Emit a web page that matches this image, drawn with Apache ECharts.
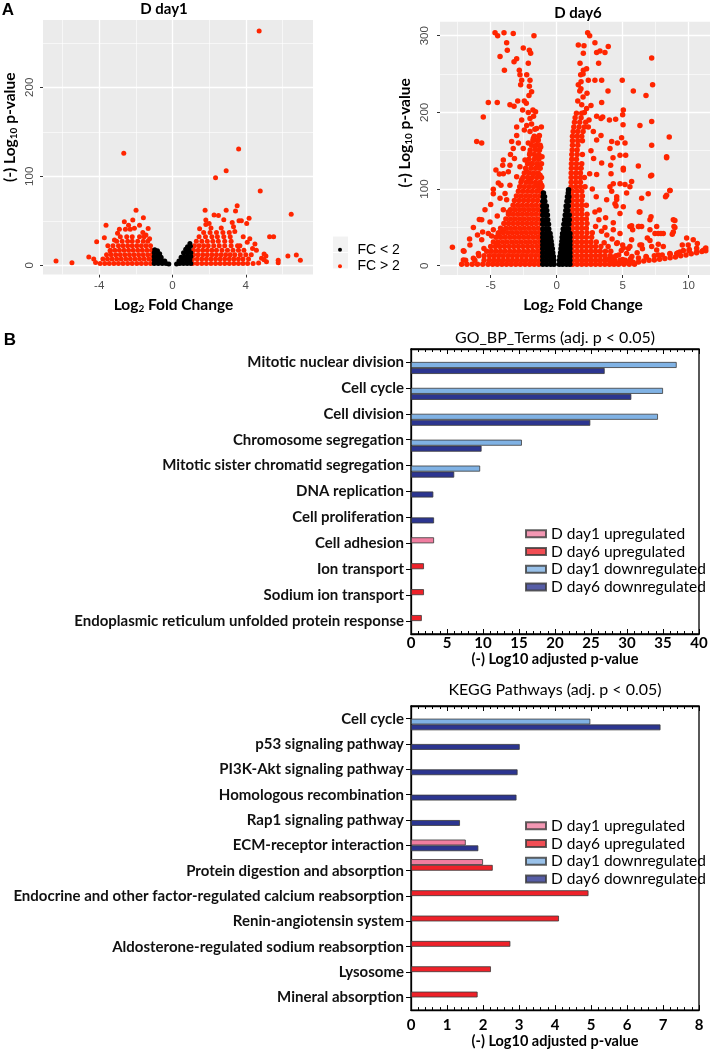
<!DOCTYPE html>
<html>
<head>
<meta charset="utf-8">
<script src="https://cdn.jsdelivr.net/npm/echarts@6/dist/echarts.min.js"></script>
<style>
  html, body { margin: 0; padding: 0; background: #fff; }
  #main { width: 715px; height: 1050px; }
</style>
</head>
<body>
<div id="main"></div>
<script>
// ---- panel A: volcano plots ----
const day1XTicks = [-4, 0, 4];
const day1XMinor = [-6, -2, 2, 6];
const day1YTicks = [0, 100, 200];
const day1YMinor = [50, 150, 250];
const day6XTicks = [-5, 0, 5, 10];
const day6XMinor = [-7.5, -2.5, 2.5, 7.5];
const day6YTicks = [0, 100, 200, 300];
const day6YMinor = [50, 150, 250];

// FC < 2, day1
const day1Black = [
  [-1.0,2],[-0.78,2],[-0.56,2],[-0.35,2],[-0.2,1.5],
  [-1.0,6],[-0.8,6],[-0.6,6],[-0.42,5],
  [-1.0,10],[-0.8,10],[-0.62,9],
  [-1.0,14],[-0.83,14],[-0.7,13],
  [-0.97,17.5],[-0.82,16.5],
  [0.22,1.5],[0.4,2],[0.6,2],[0.8,2],[1.0,2],
  [0.35,5],[0.55,6],[0.75,6],[0.95,6],
  [0.47,9],[0.66,10],[0.85,10],[1.0,10],
  [0.6,14],[0.8,14],[1.0,14],
  [0.72,18],[0.9,18],
  [0.82,21],[0.98,21.5],
  [0.95,24.5]
];
// FC > 2, day1 : dense rows [y, [x...]] plus single spots
const day1RedLeftRows = [
  [2, [-3.95,-3.7,-3.45,-3.2,-2.95,-2.7,-2.45,-2.2,-1.95,-1.7,-1.45,-1.2]],
  [7, [-3.8,-3.55,-3.3,-3.05,-2.8,-2.55,-2.3,-2.05,-1.8,-1.55,-1.3,-1.1]],
  [12, [-3.6,-3.35,-3.1,-2.85,-2.6,-2.35,-2.1,-1.85,-1.6,-1.35,-1.12]],
  [17, [-3.4,-3.15,-2.9,-2.65,-2.4,-2.15,-1.9,-1.65,-1.4,-1.15]],
  [22, [-3.25,-2.95,-2.7,-2.45,-2.2,-1.95,-1.7,-1.45,-1.2]],
  [27, [-3.05,-2.75,-2.45,-2.2,-1.9,-1.6,-1.35]],
  [32, [-2.85,-2.5,-2.2,-1.8,-1.55]]
];
const day1RedLeftSpots = [
  [-6.36,4.8],[-5.49,3],[-4.57,9.3],[-4.3,7],[-4.2,3.3],[-4.14,26.5],[-3.63,45],[-3.72,31],
  [-3.53,22],[-1.99,62],[-1.59,53.5],[-2.17,51],[-2.63,49],[-2.9,40.4],[-2.57,40.4],[-2.31,40.4],
  [-1.33,41.5],[-2.08,41.6],[-1.62,37],[-2.66,125.8],[-3.17,28.4],[-1.45,34],[-3.4,16],[-3.0,36],
  [-1.8,45],[-2.4,45],[-1.25,30]
];
const day1RedRightRows = [
  [2, [1.1,1.35,1.6,1.85,2.1,2.35,2.6,2.85,3.1,3.35,3.6,3.85,4.1,4.4]],
  [7, [1.1,1.35,1.6,1.85,2.1,2.35,2.6,2.85,3.1,3.35,3.6,3.85,4.15]],
  [12, [1.15,1.4,1.65,1.9,2.15,2.4,2.65,2.9,3.15,3.4,3.7,4.0]],
  [17, [1.15,1.4,1.65,1.9,2.15,2.4,2.7,3.0,3.3,3.6,3.9]],
  [22, [1.2,1.45,1.7,1.95,2.25,2.55,2.85,3.2,3.55]],
  [27, [1.3,1.6,1.9,2.2,2.5,2.85,3.2]],
  [32, [1.45,1.8,2.15,2.45,2.8,3.15]],
  [37, [1.7,2.05,2.4,2.75,3.1]]
];
const day1RedRightSpots = [
  [1.78,62],[2.93,62],[3.53,67],[3.44,61],[2.27,56.6],[2.51,56],[1.82,51],[1.82,46],[2.8,51.3],
  [3.63,50],[4.18,53],[4.05,47],[3.26,48],[3.33,43.4],[1.48,41],[2.1,42],[2.66,42],[5.3,32],
  [5.52,32],[6.48,57.3],[6.3,10.5],[6.76,11.5],[6.98,5.8],[5.77,5.8],[5.77,3],[5.1,10.5],[5.13,4],
  [4.86,8],[4.58,17],[4.22,30],[4.37,19],[3.86,32],[4.08,26],[3.68,22],[4.73,263.3],[3.61,130.7],
  [2.93,106.3],[2.35,98.5],[4.79,83.5],[4.7,2.7],[5.0,12.6],[5.0,6.2],[3.76,50],[4.5,24],[4.3,12],
  [3.4,38],[2.0,47]
];

// FC < 2, day6 : rows [y, [x...]]
const day6BlackRows = [
  [2, [-1.05,-0.75,-0.45,-0.2,0.2,0.45,0.75,1.0]],
  [7, [-1.05,-0.75,-0.45,-0.22,0.22,0.45,0.75,1.0]],
  [12, [-1.05,-0.75,-0.45,-0.25,0.25,0.5,0.75,1.0]],
  [17, [-1.05,-0.75,-0.5,-0.3,0.3,0.5,0.75,1.0]],
  [22, [-1.05,-0.75,-0.5,-0.33,0.33,0.55,0.78,1.0]],
  [27, [-1.05,-0.78,-0.55,-0.38,0.36,0.58,0.8,1.0]],
  [32, [-1.05,-0.78,-0.55,-0.42,0.4,0.6,0.8,1.0]],
  [37, [-1.05,-0.8,-0.6,-0.46,0.42,0.62,0.82,1.0]],
  [42, [-1.05,-0.8,-0.6,-0.5,0.45,0.65,0.85,1.0]],
  [48, [-1.05,-0.8,-0.6,0.5,0.7,0.9]],
  [54, [-1.05,-0.82,-0.62,0.55,0.75,0.92]],
  [60, [-1.05,-0.82,-0.68,0.6,0.78,0.95]],
  [66, [-1.05,-0.85,-0.7,0.65,0.82,0.95]],
  [72, [-1.05,-0.85,-0.75,0.7,0.85]],
  [78, [-1.05,-0.88,-0.78,0.72,0.88]],
  [84, [-1.05,-0.9,0.78,0.9]],
  [90, [-1.02,-0.92,0.82,0.92]],
  [95, [-1.0,0.88]],
  [99, [0.9]]
];
// FC > 2, day6
const day6RedLeftRows = [
  [2, [-7.2,-6.8,-6.4,-6.0,-5.6,-5.2,-4.85,-4.5,-4.15,-3.8,-3.45,-3.1,-2.75,-2.4,-2.05,-1.7,-1.35]],
  [7, [-6.9,-6.2,-5.5,-5.1,-4.75,-4.4,-4.05,-3.7,-3.35,-3.0,-2.65,-2.3,-1.95,-1.6,-1.25]],
  [13, [-5.9,-5.5,-5.1,-4.75,-4.4,-4.05,-3.7,-3.35,-3.0,-2.65,-2.3,-1.95,-1.6,-1.25]],
  [19, [-5.3,-4.95,-4.6,-4.25,-3.9,-3.55,-3.2,-2.85,-2.5,-2.15,-1.8,-1.45,-1.2]],
  [25, [-5.0,-4.65,-4.3,-3.95,-3.6,-3.25,-2.9,-2.55,-2.2,-1.85,-1.5,-1.2]],
  [31, [-4.8,-4.45,-4.1,-3.75,-3.4,-3.05,-2.7,-2.35,-2.0,-1.65,-1.3]],
  [37, [-4.6,-4.25,-3.9,-3.55,-3.2,-2.85,-2.5,-2.15,-1.8,-1.45,-1.2]],
  [43, [-4.4,-4.05,-3.7,-3.35,-3.0,-2.65,-2.3,-1.95,-1.6,-1.25]],
  [49, [-4.25,-3.85,-3.5,-3.15,-2.8,-2.45,-2.1,-1.75,-1.4]],
  [55, [-4.0,-3.65,-3.3,-2.95,-2.6,-2.25,-1.9,-1.55,-1.2]],
  [61, [-3.85,-3.5,-3.15,-2.8,-2.45,-2.1,-1.75,-1.4]],
  [67, [-3.65,-3.3,-2.95,-2.6,-2.25,-1.9,-1.55,-1.2]],
  [73, [-3.5,-3.15,-2.8,-2.45,-2.1,-1.75,-1.4]],
  [79, [-3.3,-2.95,-2.6,-2.25,-1.9,-1.55,-1.2]],
  [85, [-3.2,-2.85,-2.5,-2.15,-1.8,-1.45]],
  [91, [-3.05,-2.7,-2.35,-2.0,-1.65,-1.3]],
  [97, [-2.9,-2.55,-2.2,-1.85,-1.5,-1.2]],
  [103, [-2.8,-2.45,-2.1,-1.75,-1.4,-1.12]],
  [109, [-2.7,-2.3,-1.95,-1.6,-1.25]],
  [115, [-2.55,-2.2,-1.85,-1.5,-1.15]],
  [121, [-2.45,-2.1,-1.75,-1.4]],
  [127, [-2.35,-1.95,-1.6,-1.25]],
  [133, [-2.2,-1.85,-1.5,-1.15]],
  [139, [-2.1,-1.7,-1.35]],
  [145, [-2.05,-1.7,-1.35]],
  [151, [-2.0,-1.6,-1.3]],
  [157, [-1.9,-1.55,-1.25]],
  [163, [-1.8,-1.45]],
  [169, [-1.7,-1.35]]
];
const day6RedLeftSpots = [
  [-4.67,304],[-4.47,300],[-3.99,304],[-3.29,303],[-1.72,300],[-3.79,291],[-3.74,281],[-4.29,273],
  [-3.96,255],[-3.23,266],[-3.03,270],[-2.53,284],[-2.07,281],[-1.97,277],[-2.15,264],[-2.83,255],
  [-2.78,249],[-2.65,242],[-2.73,236],[-2.27,249],[-2.02,242],[-2.07,234],[-1.9,227],[-5.18,213],
  [-4.5,213],[-3.54,210],[-3.23,208],[-2.95,215],[-2.45,215],[-2.58,203],[-1.6,201],[-5.56,194],
  [-6.06,162],[-5.68,160],[-2.65,190],[-2.27,183],[-3.03,181],[-2.02,192],[-3.03,170],[-3.41,162],
  [-3.29,153],[-4.04,138],[-3.54,131],[-4.04,120],[-4.42,108],[-4.8,94],[-5.43,73],[-5.68,60],
  [-6.31,50],[-5.05,57],[-4.8,47],[-4.29,88],[-3.79,86],[-4.04,73],[-3.66,70],[-7.9,24],[-7.07,7.4],
  [-6.31,9.6],[-5.93,16],[-5.68,34],[-5.18,42],[-5.51,22.6],[-4.42,42],[-4.04,46.6],[-4.55,29],
  [-7.07,19.6],[-6.57,27],[-7.02,19],[-5.86,60.4],[-5.61,44],[-4.93,38.7],[-4.8,99.6],[-4.34,119.6],
  [-3.66,122.6],[-4.22,105],[-4.09,131],[-3.91,94.3],[-3.54,105],
  [-2.45,177],[-2.02,175],[-1.52,179],[-1.77,166],[-1.39,164],[-2.15,160],[-1.64,155],[-2.53,153],
  [-2.02,147],[-1.52,142],[-2.4,138],[-1.9,133],[-1.39,129],[-2.78,129],[-2.27,123],[-1.77,120],
  [-1.26,118],[-3.03,116],[-2.65,112],[-2.02,110],[-1.52,107],[-1.14,105],[-1.21,155],[-1.11,142],
  [-1.31,170],[-1.16,181],[-1.9,185],[-1.75,195],[-1.8,203],[-1.65,178],[-2.15,200],[-2.3,212],
  [-2.1,222],[-3.2,140],[-3.5,145],[-2.9,160],[-4.6,125],[-5.0,80],[-4.5,65],[-6.0,40],[-6.6,35]
];
const day6RedRightRows = [
  [2, [1.2,1.55,1.9,2.25,2.6,2.95,3.3,3.65,4.0,4.35,4.7,5.1,5.5,5.9]],
  [7, [1.2,1.55,1.9,2.25,2.6,2.95,3.3,3.65,4.0,4.4,4.8,5.2,5.6]],
  [13, [1.2,1.55,1.9,2.25,2.6,2.95,3.3,3.65,4.05,4.5]],
  [19, [1.2,1.55,1.9,2.25,2.6,2.95,3.3,3.7,4.1]],
  [25, [1.2,1.55,1.9,2.25,2.6,2.95,3.35]],
  [31, [1.2,1.55,1.9,2.25,2.6,3.0]],
  [37, [1.2,1.55,1.9,2.25,2.65]],
  [43, [1.2,1.55,1.9,2.3,2.7]],
  [49, [1.2,1.55,1.9,2.25]],
  [55, [1.2,1.55,1.9,2.3]],
  [61, [1.2,1.55,1.9,2.25]],
  [67, [1.2,1.55,1.9,2.3]],
  [73, [1.2,1.55,1.9]],
  [79, [1.2,1.55,1.9,2.25]],
  [85, [1.2,1.55,1.9]],
  [91, [1.2,1.55,1.95]],
  [97, [1.2,1.55,1.9]],
  [103, [1.1,1.45,1.8,2.15]],
  [109, [1.1,1.45,1.8]],
  [115, [1.1,1.45,1.8,2.1]],
  [121, [1.1,1.45,1.8]],
  [127, [1.12,1.5,1.85]],
  [133, [1.12,1.5,1.9]],
  [139, [1.15,1.5]],
  [145, [1.15,1.55,1.95]],
  [151, [1.18,1.55]],
  [157, [1.2,1.6]],
  [163, [1.2,1.6,1.95]],
  [169, [1.2,1.55,1.9]],
  [175, [1.25,1.6,2.0]],
  [181, [1.3,1.7,2.1]],
  [187, [1.35,1.75,2.2]],
  [193, [1.4,1.85]],
  [199, [1.5,1.9]]
];
const day6RedRightSpots = [
  [2.35,304],[2.5,300],[1.64,288],[2.07,287],[2.9,291],[3.28,280],[3.03,278],[3.91,286],[3.66,278],
  [2.02,277],[1.77,264],[3.18,264],[7.2,271],[2.02,255],[1.82,249],[2.27,257],[1.64,236],[1.84,231],
  [2.4,242],[2.9,242],[3.41,242],[4.97,242],[7.27,236],[5.81,228],[6.77,222],[3.89,228],[2.6,209],
  [2.27,205],[3.41,213],[3.03,195],[2.45,190],[3.36,192],[3.49,194],[4.0,190],[4.47,191],[5.05,203],
  [5.0,197],[2.4,181],[2.78,175],[3.36,170],[3.03,164],[4.17,162],[4.04,153],[4.6,160],[5.18,160],
  [4.92,167],[5.03,184],[6.31,183],[7.2,188],[4.8,144],[5.23,144],[4.27,141],[6.19,130],[7.2,157],
  [7.2,118],[8.53,168],[8.33,142],[8.58,98],[8.25,90],[6.94,94],[5.05,127],[5.68,110],[4.8,107],
  [4.12,120],[3.41,134],[3.03,119],[4.04,103],[4.55,90],[3.79,86],[5.05,77],[5.55,103],[6.31,70],
  [6.44,88],[4.42,81],[4.8,68],[7.07,60],[7.58,51],[7.7,42],[8.84,60],[8.89,51],[8.76,41],[5.55,51],
  [5.76,47],[6.19,51],[7.07,47],[7.45,42],[4.29,47],[4.8,42],[8.08,42],[10.35,34],[10.66,29],
  [10.05,21],[11.1,20],[11.3,23],[9.6,20],[9.1,16],[8.08,25],[7.2,25],[6.44,27],[5.68,34],[5.55,25],
  [5.05,23],[4.55,29],[6.77,12],[7.7,14],[8.58,16],[9.34,18],[10.03,19.6],[10.61,22.7],[11.24,21.4],
  [4.09,131],[5.05,125],[8.33,141],[7.12,117],[8.59,98],[8.33,92],[6.26,70],[7.15,64],[8.96,59],
  [8.96,50],[8.84,44],[7.9,42],[6.87,36],[7.07,33],[6.24,51],[6.44,51],[5.68,52],[4.55,86.5],
  [4.5,78],[4.17,97],[4.29,107],[5.18,106],[5.3,95],[3.71,62.6],[4.29,56],[3.66,50],[3.23,72.6],
  [2.95,51],[9.85,36],[9.97,27],[10.6,18],[9.52,27],[7.7,28],[7.58,20.6],[6.31,27],[5.43,22.6],
  [4.2,3],[4.6,3],[5.0,3.5],[5.4,4],[5.8,4.5],[6.2,5],[6.6,6],[7.0,7],[7.4,7.5],[7.8,8.5],[8.2,9.5],
  [8.6,10.5],[9.0,11.5],[9.4,13],[9.8,14],[10.2,15.5],[10.6,17],[11.0,18.5],[11.3,19.5],[5.0,8],
  [5.6,9],[6.2,10],[6.8,11],[7.4,13],[8.0,14],[8.6,15],[9.2,17],[3.9,8],[4.3,11],[4.7,14],[4.9,20],
  [5.3,16],[5.7,12],[6.1,17],[6.5,22],[5.0,27],[4.6,30],[4.2,35],[3.8,40],[3.6,30],
  [2.6,150],[2.8,140],[2.5,120],[2.7,100],[3.0,90],[2.9,70],[3.2,60],[3.4,45],[3.9,25],[1.9,210],
  [2.0,220],[1.75,228],[2.1,200],[1.6,215],[2.3,225],[1.85,240],[2.0,250]
];

// ---- panel B: enrichment bars ----
const groupNames = ['D day1 upregulated', 'D day6 upregulated', 'D day1 downregulated', 'D day6 downregulated'];
const groupColors = ['#F07DA0', '#EE2129', '#80B2E4', '#2C3590'];

const goTerms = ['Mitotic nuclear division', 'Cell cycle', 'Cell division', 'Chromosome segregation',
  'Mitotic sister chromatid segregation', 'DNA replication', 'Cell proliferation', 'Cell adhesion',
  'Ion transport', 'Sodium ion transport', 'Endoplasmic reticulum unfolded protein response'];
const goDay1Up   = [null, null, null, null, null, null, null, 3.2, null, null, null];
const goDay6Up   = [null, null, null, null, null, null, null, null, 1.8, 1.8, 1.5];
const goDay1Down = [36.9, 35.0, 34.3, 15.4, 9.6, null, null, null, null, null, null];
const goDay6Down = [26.9, 30.6, 24.9, 9.8, 6.0, 3.1, 3.2, null, null, null, null];
const goTicks = [0, 5, 10, 15, 20, 25, 30, 35, 40];

const keggTerms = ['Cell cycle', 'p53 signaling pathway', 'PI3K-Akt signaling pathway', 'Homologous recombination',
  'Rap1 signaling pathway', 'ECM-receptor interaction', 'Protein digestion and absorption',
  'Endocrine and other factor-regulated calcium reabsorption', 'Renin-angiotensin system',
  'Aldosterone-regulated sodium reabsorption', 'Lysosome', 'Mineral absorption'];
const keggDay1Up   = [null, null, null, null, null, 1.52, 2.0, null, null, null, null, null];
const keggDay6Up   = [null, null, null, null, null, null, 2.27, 4.93, 4.11, 2.76, 2.22, 1.85];
const keggDay1Down = [4.98, null, null, null, null, null, null, null, null, null, null, null];
const keggDay6Down = [6.93, 3.02, 2.96, 2.93, 1.36, 1.87, null, null, null, null, null, null];
const keggTicks = [0, 1, 2, 3, 4, 5, 6, 7, 8];

// which of the 4 bar slots (top to bottom) the first bar of each term sits in
const goFirstSlot   = [2, 2, 2, 2, 2, 2, 2, 1, 1, 1, 1];
const keggFirstSlot = [2, 2, 2, 2, 2, 1, 0, 1, 1, 1, 1, 1];

const FONT = 'Lato';

function rowsToPoints(rows) {
  const out = [];
  rows.forEach(r => r[1].forEach(x => out.push([x, r[0]])));
  return out;
}

function volcanoSeries(idx, red, black, size, xT, xM, yT, yM) {
  const major = { color: '#fff', width: 1.3, type: 'solid' };
  const minor = { color: '#fff', width: 0.6, type: 'solid' };
  const lines = [];
  xM.forEach(v => lines.push({ xAxis: v, lineStyle: minor }));
  yM.forEach(v => lines.push({ yAxis: v, lineStyle: minor }));
  xT.forEach(v => lines.push({ xAxis: v, lineStyle: major }));
  yT.forEach(v => lines.push({ yAxis: v, lineStyle: major }));
  return [
    { type: 'scatter', xAxisIndex: idx, yAxisIndex: idx, data: [], silent: true, z: 1,
      markLine: { silent: true, z: 1, symbol: 'none', label: { show: false }, emphasis: { disabled: true }, data: lines } },
    { name: 'FC > 2', type: 'scatter', xAxisIndex: idx, yAxisIndex: idx, data: red, symbolSize: size, z: 3,
      silent: true, itemStyle: { color: '#FF2500', opacity: 1 } },
    { name: 'FC < 2', type: 'scatter', xAxisIndex: idx, yAxisIndex: idx, data: black, symbolSize: size, z: 4,
      silent: true, itemStyle: { color: '#000', opacity: 1 } }
  ];
}

const subRich = {
  s: { fontFamily: FONT, fontWeight: 'bold', fontSize: 10, color: '#000', verticalAlign: 'bottom', lineHeight: 12 }
};

function volcanoX(grid, min, max, ticks, pad) {
  return {
    gridIndex: grid, type: 'value', min: min, max: max,
    axisLine: { show: false, onZero: false }, splitLine: { show: false },
    axisTick: { show: true, length: 3, customValues: ticks, lineStyle: { color: '#333' } },
    axisLabel: { customValues: ticks, color: '#4D4D4D', fontSize: 11.5, fontFamily: 'Liberation Sans', margin: 5 },
    name: 'Log{s|2} Fold Change', nameLocation: 'middle', nameGap: 21,
    nameTextStyle: { fontFamily: FONT, fontWeight: 'bold', fontSize: 15.5, color: '#000', lineHeight: 18, padding: pad, rich: subRich }
  };
}
function volcanoY(grid, min, max, ticks, margin, gap, pad) {
  return {
    gridIndex: grid, type: 'value', min: min, max: max,
    axisLine: { show: false, onZero: false }, splitLine: { show: false },
    axisTick: { show: true, length: 3, customValues: ticks, lineStyle: { color: '#333' } },
    axisLabel: { customValues: ticks, color: '#4D4D4D', fontSize: 11.5, fontFamily: 'Liberation Sans', rotate: 90, margin: margin },
    name: '(-) Log{s|10} p-value', nameLocation: 'middle', nameGap: gap, nameRotate: 90,
    nameTextStyle: { fontFamily: FONT, fontWeight: 'bold', fontSize: 15.5, color: '#000', lineHeight: 18, padding: pad, rich: subRich }
  };
}

function barValAxis(grid, max, ticks, margin, gap) {
  return {
    gridIndex: grid, type: 'value', min: 0, max: max, interval: ticks[1] - ticks[0], position: 'bottom',
    axisLine: { show: true, onZero: false, lineStyle: { color: '#000', width: 1.3 } },
    axisTick: { show: true, inside: true, length: 5, lineStyle: { color: '#000', width: 1 } },
    minorTick: { show: true, splitNumber: 5, length: 3, lineStyle: { color: '#000', width: 1 } },
    splitLine: { show: false },
    axisLabel: { fontFamily: FONT, fontWeight: 'bold', fontSize: 15, color: '#000', margin: margin },
    name: '(-) Log10 adjusted p-value', nameLocation: 'middle', nameGap: gap,
    nameTextStyle: { fontFamily: FONT, fontWeight: 'bold', fontSize: 14.5, color: '#000' }
  };
}
function barTopAxis(grid, max, ticks) {
  return {
    gridIndex: grid, type: 'value', min: 0, max: max, interval: ticks[1] - ticks[0], position: 'top',
    axisLine: { show: true, onZero: false, lineStyle: { color: '#000', width: 1.3 } },
    axisTick: { show: true, inside: true, length: 5, lineStyle: { color: '#000', width: 1 } },
    minorTick: { show: true, splitNumber: 5, length: 3, lineStyle: { color: '#000', width: 1 } },
    splitLine: { show: false }, axisLabel: { show: false }
  };
}
function barCatAxis(grid, terms) {
  return {
    gridIndex: grid, type: 'category', data: terms, inverse: true,
    axisLine: { show: true, lineStyle: { color: '#000', width: 1.3 } },
    axisTick: { show: true, alignWithLabel: true, length: 5, lineStyle: { color: '#000', width: 1 } },
    axisLabel: { fontFamily: FONT, fontWeight: 'bold', fontSize: 15, color: '#111', margin: 7, interval: 0 },
    splitLine: { show: false }
  };
}

function slotSeries(axis, groups, firstSlot, barW) {
  const slots = [0, 1, 2, 3].map(() => groups[0].map(() => '-'));
  firstSlot.forEach((start, i) => {
    let s = start;
    groups.forEach((vals, g) => {
      if (vals[i] != null) {
        slots[s][i] = { value: vals[i], itemStyle: { color: groupColors[g] } };
        s++;
      }
    });
  });
  return slots.map(d => ({
    type: 'bar', xAxisIndex: axis, yAxisIndex: axis, data: d, barWidth: barW, barGap: '0%', silent: true,
    itemStyle: { borderColor: '#3A3A3A', borderWidth: 0.8 }
  }));
}

function legendOnlySeries(axis) {
  return groupNames.map((n, g) => ({
    name: n, type: 'scatter', xAxisIndex: axis, yAxisIndex: axis, data: [],
    itemStyle: { color: groupColors[g], borderColor: '#3A3A3A', borderWidth: 1 }
  }));
}

function barLegend(top) {
  return {
    data: groupNames, orient: 'vertical', left: 520, top: top, icon: 'rect', itemWidth: 20, itemHeight: 7,
    itemGap: 0, selectedMode: false,
    textStyle: { fontFamily: FONT, fontSize: 15.5, color: '#000', lineHeight: 17.7 }
  };
}

function label(text, x, y, font) {
  return { type: 'text', x: x, y: y, silent: true,
    style: { text: text, font: font, fill: '#000', align: 'center', verticalAlign: 'middle',
             textAlign: 'center', textVerticalAlign: 'middle' } };
}

const chart = echarts.init(document.getElementById('main'), null, { renderer: 'canvas' });

const option = {
  animation: false,
  grid: [
    { left: 43, top: 20, width: 270, height: 254.5, show: true, backgroundColor: '#EBEBEB', borderWidth: 0 },
    { left: 440, top: 21.7, width: 270, height: 253.3, show: true, backgroundColor: '#EBEBEB', borderWidth: 0 },
    { left: 411, top: 349, width: 288, height: 285, show: true, borderColor: '#000', borderWidth: 1.3 },
    { left: 411, top: 706, width: 288, height: 307, show: true, borderColor: '#000', borderWidth: 1.3 }
  ],
  xAxis: [
    volcanoX(0, -7.07, 7.67, day1XTicks, [0, 9, 0, 0]),
    volcanoX(1, -8.84, 11.62, day6XTicks, [0, 0, 0, 16]),
    barValAxis(2, 40, goTicks, 2, 15),
    barValAxis(3, 8, keggTicks, 8, 20),
    barTopAxis(2, 40, goTicks),
    barTopAxis(3, 8, keggTicks)
  ],
  yAxis: [
    volcanoY(0, -10.3, 275.6, day1YTicks, 7, 24, [0, 0, 0, 40]),
    volcanoY(1, -12.1, 318.3, day6YTicks, 9, 26, [0, 0, 0, 31]),
    barCatAxis(2, goTerms),
    barCatAxis(3, keggTerms)
  ],
  legend: [
    { data: ['FC < 2', 'FC > 2'], orient: 'vertical', left: 333, top: 236.5, icon: 'circle',
      itemWidth: 15, itemHeight: 4, itemGap: 0, selectedMode: false,
      textStyle: { fontFamily: 'Liberation Sans', fontSize: 14, color: '#000', lineHeight: 16.5, padding: [0, 0, 0, 5] } },
    barLegend(520),
    barLegend(812)
  ],
  graphic: [
    { type: 'rect', shape: { x: 333, y: 236.5, width: 15, height: 15.5 }, style: { fill: '#F2F2F2' }, silent: true },
    { type: 'rect', shape: { x: 333, y: 253, width: 15, height: 15.5 }, style: { fill: '#F2F2F2' }, silent: true },
    label('A', 8, 10, 'bold 17px "Liberation Sans"'),
    label('B', 10, 340, 'bold 17px "Liberation Sans"'),
    label('D day1', 164, 9, 'bold 15px Lato'),
    label('D day6', 578, 13, 'bold 15px Lato'),
    label('GO_BP_Terms (adj. p < 0.05)', 555, 338, '16px Lato'),
    label('KEGG Pathways (adj. p < 0.05)', 555, 690, '16px Lato')
  ],
  series: [
    ...volcanoSeries(0,
      rowsToPoints(day1RedLeftRows).concat(day1RedLeftSpots, rowsToPoints(day1RedRightRows), day1RedRightSpots),
      day1Black, 5, day1XTicks, day1XMinor, day1YTicks, day1YMinor),
    ...volcanoSeries(1,
      rowsToPoints(day6RedLeftRows).concat(day6RedLeftSpots, rowsToPoints(day6RedRightRows), day6RedRightSpots),
      rowsToPoints(day6BlackRows), 5.5, day6XTicks, day6XMinor, day6YTicks, day6YMinor),
    ...slotSeries(2, [goDay1Up, goDay6Up, goDay1Down, goDay6Down], goFirstSlot, 6),
    ...slotSeries(3, [keggDay1Up, keggDay6Up, keggDay1Down, keggDay6Down], keggFirstSlot, 5.8),
    ...legendOnlySeries(2)
  ]
};

chart.setOption(option);
</script>
</body>
</html>
